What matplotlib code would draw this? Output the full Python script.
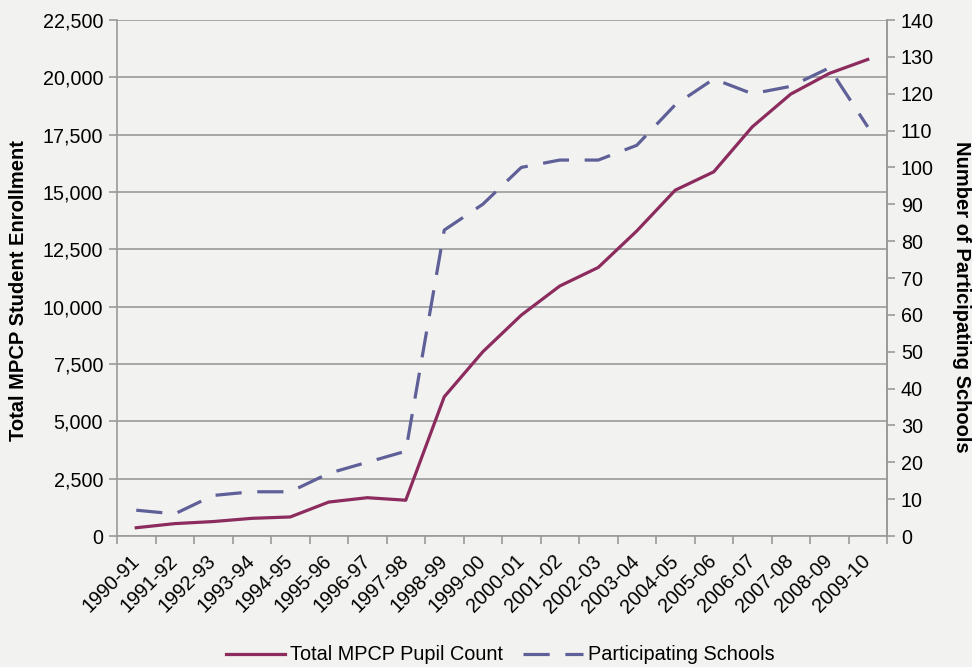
import numpy as np
import matplotlib.pyplot as plt
from matplotlib.ticker import FuncFormatter, FixedLocator

# Daten
years = ["1990-91", "1991-92", "1992-93", "1993-94", "1994-95", "1995-96",
         "1996-97", "1997-98", "1998-99", "1999-00", "2000-01", "2001-02",
         "2002-03", "2003-04", "2004-05", "2005-06", "2006-07", "2007-08",
         "2008-09", "2009-10"]
pupils = [360, 540, 630, 770, 830, 1480, 1670, 1560, 6070, 8030, 9630, 10900,
          11710, 13300, 15080, 15880, 17840, 19270, 20170, 20780]
schools = [7, 6, 11, 12, 12, 17, 20, 23, 83, 90, 100, 102, 102, 106, 117, 124,
           120, 122, 127, 111]

bg = '#f2f2f1'
grid_col = '#9a9a9a'
pupil_col = '#8c2b5d'
school_col = '#5e6097'
fs_tick = 14.2
fs_label = 14.5

plt.rcParams['font.family'] = ['Liberation Sans', 'DejaVu Sans']

fig = plt.figure(figsize=(9.72, 6.67), dpi=100, facecolor=bg)
ax1 = fig.add_axes([117/972, 1 - 536/667, 770/972, 516/667])
ax1.set_facecolor(bg)
x = np.arange(len(years))

ax1.plot(x, pupils, color=pupil_col, linewidth=2.3, label='Total MPCP Pupil Count', zorder=3)
ax1.set_xlim(-0.5, len(years) - 0.5)
ax1.set_ylim(0, 22500)
ax1.set_yticks(np.arange(0, 22501, 2500))
ax1.yaxis.set_major_formatter(FuncFormatter(lambda v, p: f'{int(v):,}'))
ax1.grid(True, axis='y', color=grid_col, linewidth=1.2, zorder=0)
ax1.set_axisbelow(True)

# Kategorieachse: Striche an den Grenzen, Beschriftung in der Mitte
ax1.xaxis.set_major_locator(FixedLocator(np.arange(-0.5, len(years), 1.0)))
ax1.xaxis.set_minor_locator(FixedLocator(x))
ax1.set_xticklabels([], minor=False)
ax1.set_xticklabels(years, minor=True, rotation=45, ha='right', va='center',
                    rotation_mode='anchor', fontsize=fs_tick)
ax1.tick_params(axis='x', which='major', length=6, color=grid_col, width=1.2)
ax1.tick_params(axis='x', which='minor', length=0, pad=16)
ax1.tick_params(axis='y', length=6, color=grid_col, width=1.2, labelsize=fs_tick, pad=4)

for side in ['left', 'bottom', 'right']:
    ax1.spines[side].set_color(grid_col)
    ax1.spines[side].set_linewidth(1.2)
ax1.spines['top'].set_visible(False)

ax2 = ax1.twinx()
ax2.plot(x, schools, color=school_col, linewidth=2.3, dashes=(8.2, 4.9),
         label='Participating Schools', zorder=3)
ax2.set_ylim(0, 140)
ax2.set_yticks(np.arange(0, 141, 10))
ax2.tick_params(axis='y', length=6, color=grid_col, width=1.2, labelsize=fs_tick, pad=4)
for side in ['left', 'bottom', 'top']:
    ax2.spines[side].set_visible(False)
ax2.spines['right'].set_color(grid_col)
ax2.spines['right'].set_linewidth(1.2)

# Achsentitel
fig.text(19/972, 1 - 291/667, "Total MPCP Student Enrollment", rotation=90,
         ha='center', va='center', fontsize=fs_label, fontweight='bold')
fig.text(961/972, 1 - 297/667, "Number of Participating Schools", rotation=-90,
         ha='center', va='center', fontsize=fs_label, fontweight='bold')

h1, l1 = ax1.get_legend_handles_labels()
h2, l2 = ax2.get_legend_handles_labels()
fig.legend(h1 + h2, l1 + l2, loc='center', bbox_to_anchor=(500/972, 1 - 655/667),
           ncol=2, frameon=False, fontsize=14.3, handlelength=3.0,
           handletextpad=0.25, columnspacing=1.0)

fig.savefig('out.png', dpi=100, facecolor=bg)
